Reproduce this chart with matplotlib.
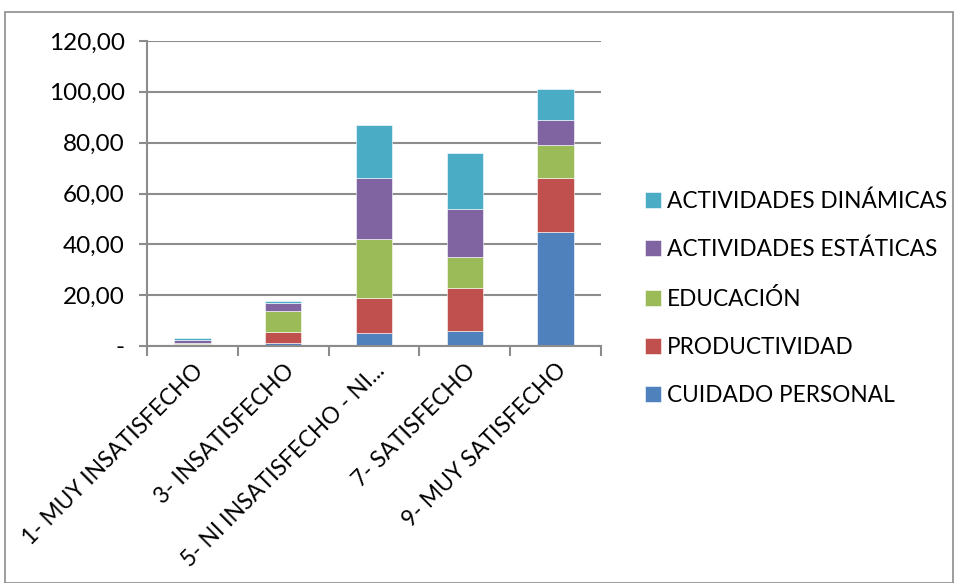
import matplotlib
matplotlib.use("Agg")
import matplotlib.pyplot as plt
from matplotlib.patches import Rectangle

plt.rcParams['font.family'] = ['Lato', 'DejaVu Sans']

categories = ["1- MUY INSATISFECHO", "3- INSATISFECHO", "5- NI INSATISFECHO - NI...",
              "7- SATISFECHO", "9- MUY SATISFECHO"]
series_names = ["CUIDADO PERSONAL", "PRODUCTIVIDAD", "EDUCACIÓN",
                "ACTIVIDADES ESTÁTICAS", "ACTIVIDADES DINÁMICAS"]
cuidado = [0.3, 1.0, 5.0, 6.0, 45.0]
productividad = [0.3, 4.6, 14.0, 17.0, 21.0]
educacion = [0.6, 8.3, 23.0, 12.0, 13.0]
estaticas = [1.0, 2.9, 24.0, 19.0, 10.0]
dinamicas = [0.9, 1.0, 21.0, 22.0, 12.0]
colors = ["#4F81BD", "#C0504D", "#9BBB59", "#8064A2", "#4BACC6"]
yticks = [0, 20, 40, 60, 80, 100, 120]
ytick_labels = ["-", "20,00", "40,00", "60,00", "80,00", "100,00", "120,00"]

fig = plt.figure(figsize=(9.59, 5.83), dpi=100)
ax = fig.add_axes([147/959, 1-346/583, 454/959, 305/583])

x = list(range(len(categories)))
bottom = [0]*len(categories)
handles = []
for vals, name, c in zip([cuidado, productividad, educacion, estaticas, dinamicas], series_names, colors):
    h = ax.bar(x, vals, bottom=bottom, width=0.4, color=c, label=name, edgecolor='white', linewidth=0.4)
    handles.append(h)
    bottom = [b+v for b, v in zip(bottom, vals)]

ax.set_xlim(-0.5, 4.5)
ax.set_ylim(0, 120)
ax.set_yticks(yticks)
ax.set_yticklabels(ytick_labels, fontsize=17.5)
ax.yaxis.grid(True, color='#8C8C8C', linewidth=1.5)
ax.set_axisbelow(True)
for s in ['top', 'right']:
    ax.spines[s].set_visible(False)
for s in ['left', 'bottom']:
    ax.spines[s].set_color('#8C8C8C')
    ax.spines[s].set_linewidth(1.5)
ax.tick_params(axis='y', length=6, width=1.5, color='#8C8C8C', pad=10)
ax.set_xticks([i + 0.5 for i in [-1, 0, 1, 2, 3, 4]])
ax.set_xticklabels([])
ax.tick_params(axis='x', length=7, width=1.5, color='#8C8C8C')
ax.set_xticks(x, minor=True)
ax.set_xticklabels(categories, minor=True, rotation=45, ha='right', rotation_mode='anchor', fontsize=16.3)
ax.tick_params(axis='x', which='minor', length=0, pad=10)

leg = fig.legend(handles[::-1], series_names[::-1], loc='center left',
                 bbox_to_anchor=(625/959, 1-298/583), frameon=False, fontsize=16.3,
                 handlelength=0.7, handleheight=0.7, labelspacing=1.2, handletextpad=0.25)

fig.patches.append(Rectangle((5/959, 0), 948/959, 1-12/583, transform=fig.transFigure,
                             fill=False, edgecolor='#8C8C8C', linewidth=1.2))

fig.savefig("out.png", dpi=100)
